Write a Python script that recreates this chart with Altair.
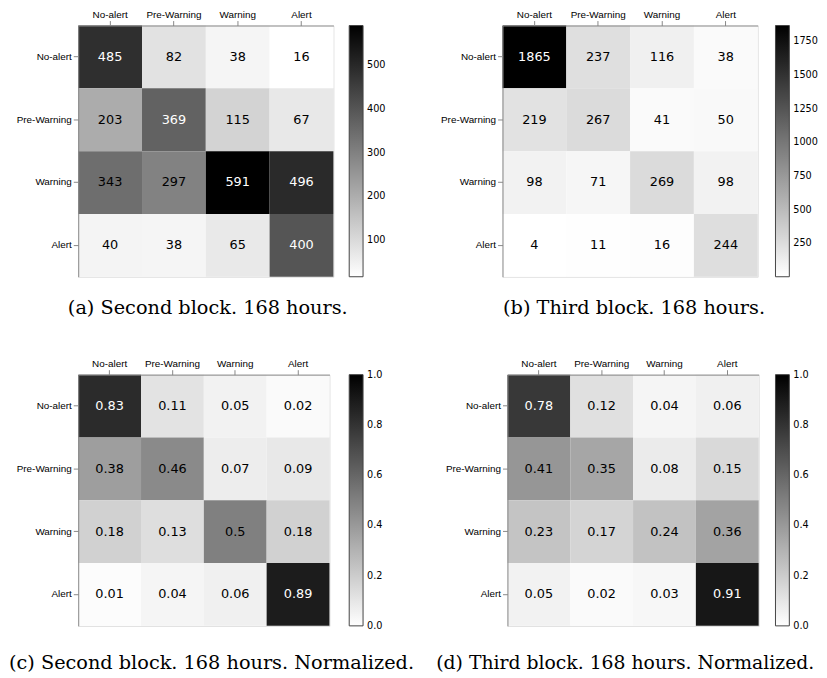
import altair as alt
import pandas as pd

labels = ["No-alert", "Pre-Warning", "Warning", "Alert"]

block2_counts = [[485, 82, 38, 16],
                 [203, 369, 115, 67],
                 [343, 297, 591, 496],
                 [40, 38, 65, 400]]
block3_counts = [[1865, 237, 116, 38],
                 [219, 267, 41, 50],
                 [98, 71, 269, 98],
                 [4, 11, 16, 244]]
block2_norm = [[0.83, 0.11, 0.05, 0.02],
               [0.38, 0.46, 0.07, 0.09],
               [0.18, 0.13, 0.5, 0.18],
               [0.01, 0.04, 0.06, 0.89]]
block3_norm = [[0.78, 0.12, 0.04, 0.06],
               [0.41, 0.35, 0.08, 0.15],
               [0.23, 0.17, 0.24, 0.36],
               [0.05, 0.02, 0.03, 0.91]]

ticks_a = [100, 200, 300, 400, 500]
ticks_b = [250, 500, 750, 1000, 1250, 1500, 1750]
ticks_norm = [0.0, 0.2, 0.4, 0.6, 0.8, 1.0]

captions = ["(a) Second block. 168 hours.",
            "(b) Third block. 168 hours.",
            "(c) Second block. 168 hours. Normalized.",
            "(d) Third block. 168 hours. Normalized."]

AXIS_EXTENT = 70


def panel(matrix, domain, ticks, fmt, tick_fmt, caption, w, h, legend_offset,
          anchor="middle", dx=0, offset=14, cap_size=19.5):
    rows = []
    for i, r in enumerate(labels):
        for j, c in enumerate(labels):
            rows.append({"actual": r, "predicted": c, "v": matrix[i][j]})
    df = pd.DataFrame(rows)
    lo, hi = domain
    thr = lo + 0.6 * (hi - lo)
    eps = 1e-4 * (hi - lo)
    # keep end labels centred on the colorbar ends (as in matplotlib)
    legend_vals = [min(max(t, lo + eps), hi - eps) for t in ticks]
    base = alt.Chart(df).encode(
        x=alt.X("predicted:N", sort=labels,
                scale=alt.Scale(paddingInner=0, paddingOuter=0),
                axis=alt.Axis(orient="top", title=None, labelAngle=0, labelPadding=1)),
        y=alt.Y("actual:N", sort=labels,
                scale=alt.Scale(paddingInner=0, paddingOuter=0),
                axis=alt.Axis(title=None, minExtent=AXIS_EXTENT, labelPadding=2)),
    )
    rect = base.mark_rect().encode(
        color=alt.Color("v:Q",
                        scale=alt.Scale(domain=[lo, hi], range=["#ffffff", "#000000"],
                                        interpolate="rgb"),
                        legend=alt.Legend(title=None, orient="right", offset=legend_offset,
                                          padding=0, direction="vertical",
                                          gradientLength=h, gradientThickness=14,
                                          gradientStrokeColor="#444444",
                                          gradientStrokeWidth=1, values=legend_vals,
                                          format=tick_fmt,
                                          labelFont="DejaVu Sans", labelFontSize=9.8,
                                          labelColor="black", labelOffset=4,
                                          labelOverlap=False))
    )
    text = base.mark_text(font="DejaVu Sans", fontSize=13).encode(
        text=alt.Text("v:Q", format=fmt),
        color=alt.condition(alt.datum.v > thr, alt.value("white"), alt.value("black")),
    )
    tp = dict(text=caption, orient="bottom", anchor=anchor, frame="group", dx=dx,
              offset=offset, font="DejaVu Serif", fontSize=cap_size, fontWeight="normal",
              color="black")
    return alt.layer(rect, text).properties(width=w, height=h,
                                             title=alt.TitleParams(**tp))


pa = panel(block2_counts, (min(map(min, block2_counts)), max(map(max, block2_counts))),
           ticks_a, "d", "d", captions[0], 258, 254, 16, dx=2, offset=22)
pb = panel(block3_counts, (min(map(min, block3_counts)), max(map(max, block3_counts))),
           ticks_b, "d", "d", captions[1], 258, 254, 18, dx=4, offset=22)
pc = panel(block2_norm, (0.0, 1.0), ticks_norm, ".2~f", ".1f", captions[2], 254, 254, 20,
           anchor="start", dx=-AXIS_EXTENT, offset=24)
pd_ = panel(block3_norm, (0.0, 1.0), ticks_norm, ".2~f", ".1f", captions[3], 254, 254, 17,
            anchor="start", dx=-72, offset=24, cap_size=19)

top = alt.hconcat(pa, pb, spacing=171, bounds="flush").resolve_scale(color="independent")
bottom = alt.hconcat(pc, pd_, spacing=180, bounds="flush").resolve_scale(color="independent")

chart = alt.vconcat(top, bottom, spacing=40).resolve_scale(color="independent").properties(
    padding={"top": -3, "left": 0, "right": 0, "bottom": 0}
).configure_view(
    stroke="black", strokeWidth=1
).configure_axis(
    domain=False, tickColor="black", tickSize=3.5, tickWidth=1,
    labelFont="DejaVu Sans", labelFontSize=9.8, labelColor="black", grid=False
).configure(background="white")

chart.save("out.html", embed_options={"renderer": "svg", "actions": False})
